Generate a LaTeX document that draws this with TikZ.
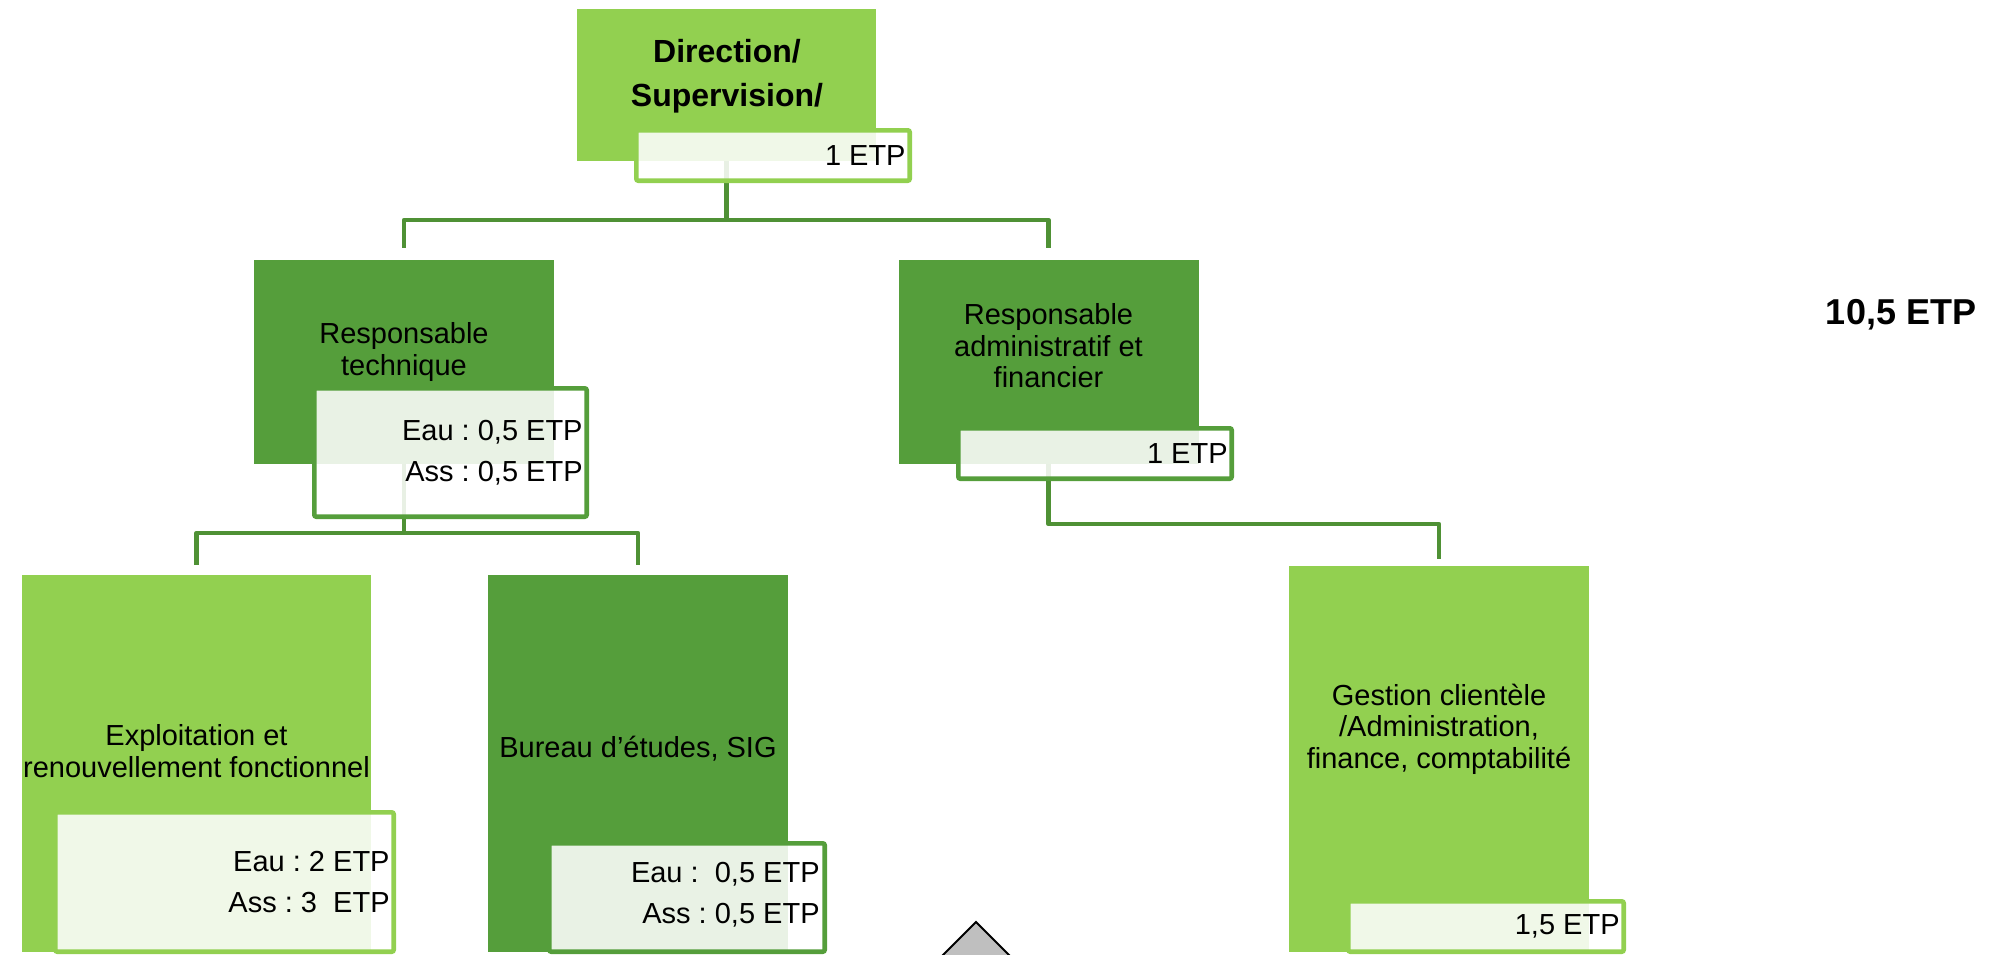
\documentclass[tikz,border=0pt]{standalone}
\usepackage{fontspec}
\setmainfont{Liberation Sans}
\usepackage{tikz}
\usetikzlibrary{positioning}
\usepackage{xcolor}
\definecolor{lightgr}{HTML}{92D050}
\definecolor{darkgr}{HTML}{559E3B}
\definecolor{linkgr}{HTML}{4F9135}
\definecolor{triagray}{HTML}{BFBFBF}
\frenchspacing

\begin{document}
\begin{tikzpicture}[
x=0.5pt, y=-0.5pt,
every node/.style = {shape=rectangle, align=center, inner sep=0pt},
mainlight/.style = {fill=lightgr},
maindark/.style = {fill=darkgr},
etpbox/.style = {draw=#1, line width=2.3pt, fill=white, fill opacity=0.87, rounded corners=1pt},
etptext/.style = {anchor=east, align=right, font=\fontsize{14.5}{20.25}\selectfont},
boxtext/.style = {font=\fontsize{14.5}{15.75}\selectfont},
total/.style = {font=\bfseries\fontsize{18}{20}\selectfont},
link/.style = {draw=linkgr, line width=2.3pt, line join=round},
]
  \useasboundingbox (0,0) rectangle (2005,954);
  \clip (0,0) rectangle (2005,954);

  \node[mainlight, minimum width=149.5pt, minimum height=76pt] (dir) at (726.5,85) {};
  \node[maindark, minimum width=150pt, minimum height=102pt] (tech) at (404,361.5) {};
  \node[maindark, minimum width=150pt, minimum height=102pt] (admin) at (1048.5,361.5) {};
  \node[mainlight, minimum width=174.5pt, minimum height=188.5pt] (expl) at (196.5,763.5) {};
  \node[maindark, minimum width=150pt, minimum height=188.5pt] (bureau) at (638,763.5) {};
  \node[mainlight, minimum width=150pt, minimum height=193pt] (gestion) at (1439,759) {};

  \node[boxtext, font=\bfseries\fontsize{16}{22}\selectfont] (dirT) at (727,76) {Direction/\\Supervision/};
  \node[boxtext] (techT) at (404,352) {Responsable\\technique};
  \node[boxtext] (adminT) at (1048.5,346) {Responsable\\administratif et\\financier};
  \node[boxtext] (explT) at (196.5,751) {Exploitation et\\renouvellement fonctionnel};
  \node[boxtext] (bureauT) at (638,749) {Bureau d’études, SIG};
  \node[boxtext] (gestionT) at (1439,729) {Gestion clientèle\\/Administration,\\finance, comptabilité};

  \coordinate (dirBus) at (726.5,220);
  \coordinate (techBus) at (404,533);
  \coordinate (adminBus) at (1048.5,524);
  \draw[link] (dir.south) -- (dirBus) -| ([yshift=5.5pt]tech.north);
  \draw[link] (dirBus) -| ([yshift=5.5pt]admin.north);
  \draw[link] (tech.south) -- (techBus) -| ([yshift=5pt]expl.north);
  \draw[link] (techBus) -| ([yshift=5pt]bureau.north);
  \draw[link] (admin.south) -- (adminBus) -| ([yshift=3.5pt]gestion.north);

  \node[etpbox=lightgr, minimum width=136.7pt, minimum height=25.2pt] (dirEtp) at (773,155.5) {};
  \node[etpbox=darkgr, minimum width=136.2pt, minimum height=64.2pt] (techEtp) at (450.5,452.5) {};
  \node[etpbox=darkgr, minimum width=136.7pt, minimum height=25.2pt] (adminEtp) at (1095,453.5) {};
  \node[etpbox=lightgr, minimum width=169.2pt, minimum height=69.7pt] (explEtp) at (224.5,882) {};
  \node[etpbox=darkgr, minimum width=137.7pt, minimum height=54.2pt] (bureauEtp) at (687,897.5) {};
  \node[etpbox=lightgr, minimum width=137.7pt, minimum height=25.2pt] (gestionEtp) at (1486,926.5) {};

  \node[etptext] (dirEtpT) at ([xshift=-3pt]dirEtp.east) {1 ETP};
  \node[etptext] (techEtpT) at ([xshift=-3pt]techEtp.east) {Eau : 0,5 ETP\\Ass : 0,5 ETP};
  \node[etptext] (adminEtpT) at ([xshift=-3pt]adminEtp.east) {1 ETP};
  \node[etptext] (explEtpT) at ([xshift=-3pt]explEtp.east) {Eau : 2 ETP\\Ass : 3\ \ ETP};
  \node[etptext] (bureauEtpT) at ([xshift=-3.5pt,yshift=1.5pt]bureauEtp.east) {Eau :\ \ 0,5 ETP\\Ass : 0,5 ETP};
  \node[etptext] (gestionEtpT) at ([xshift=-3pt]gestionEtp.east) {1,5 ETP};

  \node[total] (totalT) at (1901,315) {10,5 ETP};

  \filldraw[fill=triagray, draw=black, line width=1pt] (976,922) -- (906,992) -- (1046,992) -- cycle;
\end{tikzpicture}
\end{document}
